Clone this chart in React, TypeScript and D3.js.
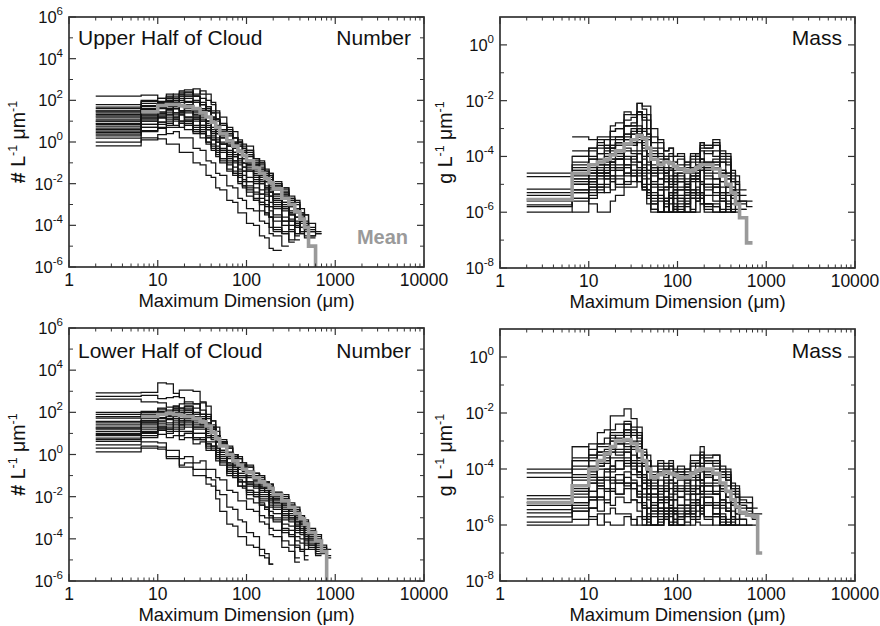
import React from 'react';
import * as d3 from 'd3';

// Shared bin edges (µm) of the size distributions
const EDGES = [2, 6.5, 10, 12.5, 15, 17.5, 20, 25, 30, 35, 40, 45, 50, 60, 70, 80, 90, 100, 120, 140, 160, 180, 200, 250, 300, 350, 400, 450, 500, 600, 700, 800, 900];
const X_TICKS = [1, 10, 100, 1000, 10000];
const X_TICK_LABELS = ['1', '10', '100', '1000', '10000'];
const NUMBER_Y_LABEL_EXPS = [6, 4, 2, 0, -2, -4, -6];
const NUMBER_Y_MINOR_EXPS = [5, 3, 1, -1, -3, -5];
const MASS_Y_LABEL_EXPS = [0, -2, -4, -6, -8];
const MASS_Y_MINOR_EXPS = [-1, -3, -5, -7];

// values are log10 of the concentration in each bin
const UPPER_NUMBER_MEAN = [null, 1.45, 1.75, 1.8, 1.8, 1.75, 1.7, 1.6, 1.4, 1.2, 0.95, 0.7, 0.4, 0.05, -0.2, -0.45, -0.65, -0.9, -1.25, -1.5, -1.75, -1.95, -2.25, -2.7, -3.0, -3.35, -3.7, -4.1, -5.0, -7];
const UPPER_NUMBER_SERIES = [
  [2.2, 2.25, 2.1, 2.3, 2.2, 2.45, 2.5, 2.3, 2.45, 2.0, 1.9, 1.4, 1.2, 0.6, 0.5, 0.0, -0.1, -0.2, -0.8, -0.9, -1.4, -1.5, -2.0, -2.2, -2.7, -2.9, -3.4, -3.5, -4.3],
  [1.67, 1.95, 1.9, 2.15, 2.1, 2.3, 2.2, 2.2, 1.8, 1.7, 1.2, 1.1, 0.5, 0.4, -0.1, -0.2, -0.6, -0.6, -1.1, -1.2, -1.7, -1.7, -2.2, -2.4, -3.0, -3.2, -3.9, -4.2],
  [1.48, 1.75, 1.85, 2.0, 1.9, 2.2, 1.95, 2.0, 1.6, 1.6, 1.1, 1.1, 0.6, 0.4, -0.1, -0.1, -0.5, -0.6, -1.1, -1.3, -1.8, -1.8, -2.3, -2.5, -3.1, -3.4, -4.1],
  [1.33, 1.6, 1.85, 1.8, 2.0, 1.75, 1.8, 1.5, 1.6, 1.2, 1.2, 0.7, 0.6, 0.1, 0.0, -0.4, -0.5, -0.9, -1.0, -1.5, -1.5, -2.0, -2.1, -2.6, -2.8, -3.3, -3.5, -4.2, -4.5],
  [1.2, 1.5, 1.75, 1.7, 1.9, 1.8, 1.9, 1.6, 1.5, 1.0, 0.9, 0.4, 0.3, -0.2, -0.3, -0.8, -0.8, -1.3, -1.4, -1.9, -1.9, -2.4, -2.5, -3.1, -3.3, -3.9, -4.3],
  [1.1, 1.35, 1.65, 1.6, 1.7, 1.5, 1.6, 1.3, 1.3, 0.9, 0.9, 0.5, 0.4, -0.1, -0.2, -0.6, -0.6, -1.1, -1.2, -1.7, -1.7, -2.2, -2.3, -2.9, -3.0, -3.6, -3.8],
  [0.9, 1.25, 1.45, 1.7, 1.6, 1.7, 1.4, 1.4, 1.0, 1.0, 0.5, 0.4, -0.1, -0.2, -0.7, -0.8, -1.2, -1.2, -1.7, -1.8, -2.3, -2.4, -2.9, -3.1, -3.7, -4.1],
  [0.76, 1.1, 1.35, 1.3, 1.6, 1.4, 1.5, 1.1, 1.1, 0.6, 0.5, 0.0, -0.1, -0.6, -0.7, -1.1, -1.2, -1.7, -1.8, -2.3, -2.4, -2.9, -3.0, -3.6, -3.8, -4.4],
  [0.67, 1.0, 1.25, 1.3, 1.6, 1.5, 1.8, 1.5, 1.6, 1.2, 1.1, 0.7, 0.5, 0.0, -0.1, -0.5, -0.5, -1.0, -1.1, -1.6, -1.6, -2.1, -2.2, -2.7, -2.8, -3.3, -3.5, -4.1, -4.3, -4.4],
  [0.52, 0.85, 1.15, 1.1, 1.3, 1.0, 1.1, 0.7, 0.7, 0.3, 0.3, -0.2, -0.3, -0.8, -0.9, -1.4, -1.4, -1.9, -2.0, -2.5, -2.6, -3.1, -3.2, -3.8, -4.0, -4.7],
  [0.38, 0.7, 0.95, 0.9, 1.0, 0.7, 0.8, 0.4, 0.4, -0.1, -0.2, -0.7, -0.8, -1.3, -1.4, -1.9, -1.9, -2.4, -2.5, -3.0, -3.1, -3.6, -3.8, -4.4, -4.7],
  [0.19, 0.5, 0.65, 0.4, 0.5, 0.2, 0.2, -0.3, -0.4, -0.9, -1.0, -1.5, -1.6, -2.1, -2.2, -2.7, -2.8, -3.2, -3.3, -3.8, -3.9, -4.4, -4.5, -5.0],
  [0.0, 0.2, 0.15, -0.1, -0.1, -0.5, -0.5, -1.0, -1.1, -1.6, -1.7, -2.2, -2.3, -2.8, -2.9, -3.4, -3.4, -3.9, -4.0, -4.5, -4.6, -5.1, -5.2],
  [-0.19, 0.1, 0.35, 0.7, 0.7, 1.0, 0.9, 1.0, 0.6, 0.6, 0.1, 0.0, -0.5, -0.7, -1.2, -1.3, -1.8, -1.9, -2.4, -2.5, -3.0, -3.1, -3.6, -3.8, -4.3, -4.4],
  [1.6, 1.85, 1.95, 2.2, 2.1, 2.4, 2.3, 2.55, 2.3, 2.3, 1.8, 1.5, 0.9, 0.7, 0.2, 0.1, -0.2, -0.4, -0.9, -1.0, -1.5, -1.6, -2.1, -2.3, -2.9, -3.0, -3.6, -3.8, -4.2],
  [1.0, 1.3, 1.35, 1.4, 1.2, 1.3, 1.0, 1.1, 0.8, 0.8, 0.4, 0.4, -0.1, -0.2, -0.6, -0.6, -1.0, -1.0, -1.5, -1.6, -2.1, -2.2, -2.7, -2.9, -3.4, -3.6, -4.1, -4.3],
  [1.4, 1.5, 1.7, 1.75, 2.0, 1.9, 2.2, 1.9, 1.9, 1.5, 1.4, 0.8, 0.6, 0.0, -0.1, -0.6, -0.6, -1.1, -1.3, -1.8, -1.9, -2.4, -2.6, -3.2, -3.4, -4.1],
  [0.6, 0.85, 0.95, 1.2, 1.2, 1.5, 1.2, 1.2, 0.8, 0.7, 0.2, 0.1, -0.4, -0.5, -0.9, -1.0, -1.4, -1.4, -1.9, -2.0, -2.5, -2.6, -3.1, -3.2, -3.8, -3.9, -4.4, -4.5],
  [0.45, 0.7, 0.85, 0.8, 1.1, 0.9, 1.0, 0.6, 0.5, 0.0, -0.1, -0.6, -0.8, -1.4, -1.5, -2.0, -2.1, -2.6, -2.8, -3.3, -3.5, -4.1, -4.3],
  [1.25, 1.55, 1.75, 1.95, 1.9, 2.1, 1.8, 1.9, 1.5, 1.5, 1.1, 1.0, 0.5, 0.4, 0.0, 0.0, -0.4, -0.5, -1.0, -1.1, -1.6, -1.7, -2.2, -2.4, -3.0, -3.2, -3.8, -3.9, -4.5, -4.4],
  [null, 1.5, 1.6, 1.9, 2.1, 2.3, 2.4, 2.2, 1.8, 1.5, 1.0, 0.7, 0.2, 0.0, -0.5, -0.6, -1.0, -1.1, -1.6, -1.7, -2.2, -2.3, -2.8, -3.0, -3.5, -3.8, -4.4],
  [null, 1.0, 1.2, 1.5, 1.4, 1.3, 1.0, 0.8, 0.4, 0.2, -0.3, -0.4, -0.9, -1.0, -1.5, -1.6, -2.1, -2.2, -2.7, -2.9, -3.4, -3.6, -4.2, -4.4],
  [1.5, 1.7, 1.8, 1.6, 1.7, 1.5, 1.5, 1.3, 1.2, 1.0, 0.7, 0.6, 0.2, 0.1, -0.3, -0.4, -0.8, -0.9, -1.3, -1.4, -1.9, -2.0, -2.5, -2.6, -3.1, -3.3, -3.8, -4.0, -4.6],
  [0.85, 1.15, 1.2, 1.0, 1.1, 0.9, 0.8, 0.5, 0.5, 0.2, 0.1, -0.3, -0.4, -0.9, -1.0, -1.5, -1.6, -2.1, -2.2, -2.7, -2.8, -3.3, -3.5, -4.0, -4.2, -4.5],
  [null, null, 1.9, 2.1, 2.3, 2.2, 2.4, 2.2, 2.1, 1.7, 1.5, 1.1, 0.8, 0.3, 0.2, -0.2, -0.3, -0.7, -0.8, -1.3, -1.4, -1.9, -2.0, -2.5, -2.7, -3.2, -3.4, -3.9, -4.1],
  [1.0, 1.2, 1.4, 1.55, 1.4, 1.4, 1.2, 1.2, 1.0, 0.6, 0.6, 0.2, 0.0, -0.4, -0.5, -0.9, -1.0, -1.4, -1.6, -2.0, -2.2, -2.6, -2.8, -3.3, -3.5, -4.0, -4.3, -4.6],
  [0.3, 0.55, 0.7, 0.9, 0.8, 0.9, 0.6, 0.5, 0.2, 0.0, -0.4, -0.5, -1.0, -1.1, -1.6, -1.7, -2.2, -2.3, -2.8, -2.9, -3.4, -3.6, -4.1, -4.3, -4.8],
  [1.8, 2.0, 2.1, 2.0, 2.1, 2.0, 2.1, 1.9, 1.8, 1.6, 1.4, 1.1, 0.8, 0.5, 0.2, 0.0, -0.3, -0.4, -0.8, -1.0, -1.3, -1.5, -1.9, -2.2, -2.6, -2.8, -3.2, -3.5, -3.9, -4.3],
];

const LOWER_NUMBER_MEAN = [null, 1.8, 1.9, 1.95, 1.9, 1.85, 1.8, 1.7, 1.55, 1.35, 1.05, 0.75, 0.4, 0.0, -0.3, -0.5, -0.7, -0.85, -1.1, -1.3, -1.45, -1.6, -1.9, -2.2, -2.5, -2.8, -3.05, -3.3, -3.7, -4.1, -4.6, -7];
const LOWER_NUMBER_SERIES = [
  [2.92, 2.95, 3.4, 3.35, 2.9, 2.7, 2.4, 2.4, 1.9, 1.8, 1.3, 1.1, 0.5, 0.3, -0.2, -0.2, -0.6, -0.6, -1.1, -1.1, -1.5, -1.5, -2.0, -2.1, -2.6, -2.7, -3.2, -3.3, -3.9, -4.1, -4.7],
  [2.76, 2.8, 2.65, 2.7, 2.75, 3.05, 3.05, 3.0, 2.5, 2.3, 1.6, 1.3, 0.6, 0.4, -0.1, -0.1, -0.5, -0.5, -1.0, -1.0, -1.4, -1.4, -1.9, -2.0, -2.5, -2.6, -3.1, -3.2, -3.7, -3.9],
  [2.63, 2.5, 2.45, 2.25, 2.3, 2.1, 2.2, 1.9, 1.9, 1.5, 1.4, 0.9, 0.7, 0.1, 0.0, -0.4, -0.5, -0.9, -1.0, -1.5, -1.5, -1.9, -2.0, -2.5, -2.6, -3.1, -3.2, -3.7, -3.9, -4.5],
  [2.0, 2.05, 2.15, 2.0, 2.1, 1.9, 2.0, 1.8, 1.8, 1.4, 1.3, 0.8, 0.6, 0.0, -0.1, -0.5, -0.5, -0.9, -0.9, -1.3, -1.3, -1.7, -1.8, -2.3, -2.4, -2.9, -2.9, -3.4, -3.6, -4.2, -4.4, -4.9],
  [1.73, 1.9, 2.05, 2.0, 2.2, 1.9, 2.1, 1.7, 1.7, 1.2, 1.1, 0.6, 0.4, -0.1, -0.2, -0.6, -0.6, -1.0, -1.1, -1.5, -1.5, -1.9, -1.9, -2.4, -2.5, -3.0, -3.1, -3.6, -3.8, -4.4],
  [1.57, 1.7, 1.85, 1.8, 2.0, 1.7, 1.9, 1.6, 1.7, 1.3, 1.2, 0.7, 0.5, -0.1, -0.2, -0.6, -0.6, -1.0, -1.1, -1.6, -1.6, -2.0, -2.1, -2.6, -2.7, -3.2, -3.3, -3.8, -4.0, -4.6],
  [1.41, 1.6, 1.85, 1.7, 1.8, 1.5, 1.6, 1.3, 1.3, 0.9, 0.8, 0.3, 0.1, -0.5, -0.6, -1.0, -1.0, -1.4, -1.5, -1.9, -1.9, -2.3, -2.4, -2.9, -3.0, -3.5, -3.6, -4.1, -4.3],
  [1.25, 1.5, 1.75, 1.7, 1.9, 1.6, 1.7, 1.4, 1.4, 1.0, 0.9, 0.4, 0.2, -0.4, -0.5, -0.9, -0.9, -1.3, -1.4, -1.8, -1.8, -2.2, -2.3, -2.8, -2.9, -3.4, -3.5, -4.0, -4.2, -4.8],
  [1.1, 1.3, 1.55, 1.5, 1.7, 1.4, 1.5, 1.2, 1.2, 0.8, 0.7, 0.2, 0.0, -0.5, -0.6, -1.0, -1.0, -1.4, -1.5, -2.0, -2.0, -2.4, -2.5, -3.0, -3.1, -3.6, -3.7, -4.2, -4.4],
  [0.94, 1.1, 1.35, 1.3, 1.4, 1.2, 1.3, 1.0, 1.0, 0.6, 0.6, 0.1, -0.1, -0.6, -0.7, -1.1, -1.1, -1.5, -1.6, -2.1, -2.1, -2.5, -2.6, -3.1, -3.2, -3.7, -3.8, -4.3, -4.5],
  [0.78, 1.0, 1.15, 1.1, 1.2, 0.9, 1.0, 0.7, 0.7, 0.3, 0.3, -0.2, -0.3, -0.8, -0.9, -1.3, -1.3, -1.7, -1.8, -2.2, -2.2, -2.7, -2.8, -3.3, -3.4, -3.9, -4.0, -4.5],
  [0.62, 0.8, 0.95, 0.8, 0.9, 0.7, 0.8, 0.5, 0.6, 0.2, 0.2, -0.3, -0.5, -1.0, -1.1, -1.5, -1.5, -1.9, -2.0, -2.4, -2.5, -2.9, -3.0, -3.5, -3.6, -4.1, -4.2, -4.8],
  [0.46, 0.6, 0.55, 0.2, 0.2, -0.2, -0.1, -0.4, -0.3, -0.7, -0.7, -1.1, -1.2, -1.7, -1.8, -2.2, -2.2, -2.6, -2.7, -3.2, -3.3, -3.8, -3.9, -4.4, -4.6, -5.1],
  [0.3, 0.4, 0.35, -0.1, -0.1, -0.5, -0.4, -0.7, -0.7, -1.1, -1.2, -1.7, -1.9, -2.5, -2.6, -3.1, -3.2, -3.7, -3.9, -4.5, -4.7, -5.2],
  [0.13, 0.3, 0.25, -0.2, -0.2, -0.6, -0.6, -1.0, -1.0, -1.4, -1.5, -2.1, -2.7, -3.3, -3.4, -3.9, -3.9, -4.3, -4.4, -4.8, -4.9, -5.2],
  [1.9, 2.0, 2.05, 1.85, 2.1, 2.0, 2.3, 2.2, 2.45, 1.9, 1.6, 0.9, 0.6, 0.0, 0.0, -0.4, -0.4, -0.8, -0.9, -1.3, -1.3, -1.7, -1.8, -2.3, -2.4, -2.9, -3.0, -3.5, -3.7, -4.3, -4.5],
  [1.3, 1.6, 1.95, 1.9, 2.3, 2.2, 2.3, 1.9, 1.9, 1.4, 1.2, 0.6, 0.4, -0.2, -0.3, -0.7, -0.7, -1.1, -1.2, -1.6, -1.6, -2.0, -2.1, -2.6, -2.7, -3.2, -3.3, -3.8, -4.0],
  [1.0, 1.2, 1.45, 1.4, 1.6, 1.3, 1.4, 1.0, 1.0, 0.5, 0.4, -0.1, -0.3, -0.9, -1.0, -1.5, -1.6, -2.1, -2.3, -2.9, -3.0, -3.5, -3.6, -4.1, -4.3, -4.9],
  [0.7, 0.9, 1.25, 1.2, 1.5, 1.4, 1.6, 1.3, 1.3, 0.9, 0.8, 0.3, 0.1, -0.4, -0.5, -0.9, -0.9, -1.3, -1.3, -1.7, -1.7, -2.1, -2.2, -2.7, -2.8, -3.3, -3.4, -3.9, -4.1, -4.7],
  [1.5, 1.6, 1.75, 1.65, 1.85, 1.8, 2.0, 1.7, 1.7, 1.3, 1.2, 0.7, 0.6, 0.1, 0.0, -0.4, -0.4, -0.8, -0.9, -1.4, -1.4, -1.8, -1.9, -2.4, -2.5, -3.0, -3.1, -3.6, -3.8, -4.4, -4.6],
  [null, 1.5, 1.7, 1.9, 2.0, 2.2, 2.1, 2.0, 1.6, 1.5, 1.0, 0.8, 0.2, 0.0, -0.4, -0.5, -0.8, -0.9, -1.2, -1.3, -1.6, -1.8, -2.1, -2.3, -2.7, -2.9, -3.3, -3.5, -3.9, -4.2, -4.6, -4.8],
  [null, 1.0, 1.3, 1.2, 1.3, 1.1, 1.1, 0.8, 0.7, 0.4, 0.2, -0.1, -0.4, -0.8, -1.0, -1.3, -1.5, -1.8, -2.0, -2.4, -2.6, -3.0, -3.2, -3.7, -3.9, -4.4, -4.6],
  [1.8, 1.9, 2.0, 2.1, 1.9, 2.0, 1.8, 1.8, 1.5, 1.4, 1.0, 0.9, 0.4, 0.3, -0.1, -0.2, -0.5, -0.6, -0.9, -1.0, -1.3, -1.4, -1.8, -1.9, -2.3, -2.5, -2.9, -3.1, -3.5, -3.8, -4.3, -4.5],
  [0.9, 1.05, 1.2, 1.0, 1.1, 0.9, 1.0, 0.8, 0.8, 0.5, 0.4, 0.0, -0.2, -0.7, -0.8, -1.2, -1.3, -1.7, -1.9, -2.3, -2.5, -2.9, -3.1, -3.6, -3.8, -4.3, -4.5, -5.0],
  [1.2, 1.4, 1.6, 1.7, 1.7, 1.6, 1.7, 1.5, 1.4, 1.1, 1.0, 0.6, 0.4, 0.0, -0.2, -0.5, -0.7, -1.0, -1.2, -1.6, -1.8, -2.1, -2.3, -2.8, -3.0, -3.4, -3.6, -4.0, -4.3, -4.7],
  [null, 2.0, 2.2, 2.0, 2.2, 2.4, 2.5, 2.4, 2.1, 1.7, 1.3, 0.9, 0.4, 0.1, -0.3, -0.4, -0.7, -0.8, -1.1, -1.2, -1.5, -1.6, -2.0, -2.1, -2.5, -2.7, -3.1, -3.3, -3.7, -4.0, -4.4],
];

const UPPER_MASS_MEAN = [-5.55, -4.6, -4.3, -4.2, -4.1, -3.95, -3.8, -3.55, -3.4, -3.25, -3.35, -3.7, -4.1, -4.3, -4.2, -4.25, -4.35, -4.45, -4.55, -4.5, -4.4, -4.3, -4.3, -4.45, -4.7, -5.0, -5.3, -5.7, -6.2, -7.1];
const UPPER_MASS_SERIES = [
  [-4.6, -4.0, -3.7, -3.3, -3.3, -2.9, -2.8, -2.4, -2.5, -2.1, -2.3, -2.5, -3.3, -3.5, -3.8, -3.7, -4.0, -3.9, -4.2, -3.9, -3.9, -3.5, -3.6, -3.5, -3.9, -4.0, -4.6, -4.9, -5.4],
  [-4.72, -4.3, -4.1, -3.7, -3.7, -3.3, -3.3, -2.9, -2.9, -2.5, -3.0, -3.3, -4.0, -4.1, -4.1, -4.0, -4.4, -4.3, -4.6, -4.2, -4.2, -3.8, -3.9, -3.8, -4.2, -4.3, -4.9, -5.2],
  [-5.17, -4.8, -4.6, -4.2, -4.1, -3.7, -3.6, -3.2, -3.2, -2.9, -3.4, -3.7, -4.4, -4.4, -4.5, -4.5, -4.9, -4.9, -5.2, -4.8, -4.8, -4.4, -4.5, -4.4, -4.9, -5.1, -5.7],
  [-5.3, -4.9, -4.8, -4.4, -4.5, -4.1, -4.1, -3.7, -3.8, -3.4, -3.8, -4.0, -4.7, -4.8, -4.9, -4.9, -5.3, -5.2, -5.2, -4.8, -4.8, -4.5, -4.8, -4.8, -5.3, -5.4],
  [-5.4, -5.0, -4.9, -4.5, -4.6, -4.3, -4.4, -4.1, -4.2, -3.9, -4.4, -4.6, -5.3, -5.4, -6.0, -5.3, -5.7, -6.0, -5.4, -5.2, -5.3, -5.3, -5.7, -5.8, -6.0],
  [-5.53, -5.2, -5.1, -4.7, -4.8, -4.4, -4.5, -4.3, -4.6, -4.5, -5.0, -5.2, -5.7, -6.0, -5.6, -5.4, -6.0, -5.7, -6.0, -5.5, -5.5, -5.4, -5.8, -6.0],
  [-5.6, -5.3, -5.2, -4.8, -4.7, -4.2, -4.1, -3.6, -3.5, -3.0, -3.1, -3.2, -3.9, -4.0, -4.4, -4.4, -4.7, -4.7, -5.0, -4.6, -4.6, -4.2, -4.3, -4.2, -4.6, -4.7, -5.3, -5.4, -5.7],
  [-5.74, -5.5, -5.4, -5.1, -5.1, -4.7, -4.7, -4.4, -4.5, -4.2, -4.6, -4.8, -5.4, -5.5, -6.0, -6.0, -5.4, -5.9, -6.0, -6.0, -5.6, -5.4, -5.7, -5.8, -6.0],
  [-6.0, -5.5, -5.7, -6.0, -6.0, -5.6, -5.4, -4.9, -4.9, -4.6, -5.1, -5.3, -5.9, -6.0, -6.0, -5.5, -6.0, -6.0, -5.8, -6.0, -6.0, -5.7, -6.0],
  [null, -3.3, -3.4, -3.4, -3.7, -3.4, -3.4, -2.9, -2.9, -2.4, -2.5, -2.7, -3.5, -3.7, -4.0, -3.9, -4.2, -4.1, -4.4, -4.1, -4.1, -3.7, -3.7, -3.6, -4.0, -4.1, -4.7, -4.9],
  [null, -4.2, -4.0, -3.6, -3.6, -3.1, -3.0, -2.5, -2.5, -2.1, -2.2, -2.2, -3.0, -3.4, -3.8, -3.7, -4.0, -4.0, -4.3, -4.0, -4.0, -3.6, -3.7, -3.6, -4.1, -4.2, -4.8, -5.0, -5.6, -5.6],
  [null, -4.5, -4.3, -3.9, -3.9, -3.6, -3.6, -3.3, -3.4, -3.3, -3.7, -3.9, -4.5, -4.5, -4.6, -4.4, -4.7, -4.6, -4.9, -4.5, -4.5, -4.1, -4.2, -4.1, -4.5, -4.6, -5.1, -5.3],
  [null, -5.0, -4.7, -4.2, -4.2, -3.8, -3.8, -3.4, -3.6, -3.5, -4.0, -4.3, -5.0, -5.1, -5.1, -5.1, -5.5, -5.5, -6.0, -5.4, -5.3, -4.9, -5.1, -5.1, -5.6, -5.7, -6.0],
  [null, -6.0, -5.3, -4.7, -4.6, -4.1, -4.1, -3.6, -3.6, -3.2, -3.5, -3.7, -4.4, -4.5, -4.8, -4.7, -5.1, -5.1, -5.4, -4.9, -4.9, -4.5, -4.6, -4.6, -5.1, -5.3, -5.9],
  [null, null, -4.8, -4.5, -4.7, -4.7, -5.1, -5.1, -5.1, -4.7, -5.1, -5.4, -5.9, -6.0, -5.6, -5.5, -5.9, -6.0, -5.5, -5.3, -5.4, -5.3, -5.7, -5.7, -6.0],
  [null, -4.4, -4.4, -4.1, -4.1, -3.6, -3.5, -2.9, -2.8, -2.4, -2.7, -3.0, -3.8, -3.9, -4.2, -4.2, -4.5, -4.4, -4.5, -4.0, -3.9, -3.5, -3.6, -3.4, -3.8, -3.9, -4.5, -4.7, -5.2],
  [null, -5.3, -5.1, -4.6, -4.6, -4.2, -4.3, -4.0, -4.1, -3.9, -4.3, -4.5, -5.1, -5.2, -5.5, -5.5, -5.9, -6.0, -5.7, -5.5, -5.6, -5.5, -5.9, -6.0],
  [null, -4.7, -4.6, -4.3, -4.3, -3.9, -3.9, -3.5, -3.5, -3.1, -3.3, -3.4, -4.1, -4.3, -4.6, -4.5, -4.9, -4.8, -5.1, -4.7, -4.7, -4.3, -4.4, -4.3, -4.7, -4.8, -5.4, -5.6, -5.9],
  [null, -4.0, -3.8, -3.9, -3.6, -3.7, -3.3, -3.4, -3.0, -3.2, -3.4, -4.0, -4.3, -4.8, -4.6, -5.0, -4.8, -5.2, -5.0, -5.3, -4.7, -4.9, -4.5, -4.8, -4.9, -5.3, -5.5, -6.0],
  [null, -5.6, -5.0, -5.2, -4.8, -4.9, -4.5, -4.6, -4.3, -4.4, -4.7, -5.2, -5.6, -6.0, -5.5, -6.0, -5.3, -5.6, -5.3, -5.5, -5.1, -5.3, -5.0, -5.3, -5.5, -5.9, -6.0],
  [null, -4.5, -4.1, -4.2, -3.8, -3.9, -3.5, -3.6, -3.2, -3.3, -3.6, -4.2, -4.6, -5.0, -4.7, -5.1, -4.6, -4.9, -4.5, -4.8, -4.3, -4.5, -4.2, -4.4, -4.6, -5.0, -5.2, -5.7, -5.9],
  [null, null, -4.5, -4.6, -4.3, -4.5, -4.1, -4.3, -4.0, -4.2, -4.5, -5.0, -5.5, -6.0, -5.8, -6.0, -5.2, -5.8, -5.4, -5.9, -5.2, -5.5, -5.0, -5.4, -5.6, -6.0],
  [null, -5.0, -4.9, -5.3, -5.0, -5.2, -4.8, -5.0, -4.7, -4.9, -5.2, -5.7, -6.0, -6.0, -5.7, -6.0, -5.8, -6.0, -5.6, -6.0, -5.5, -5.7, -5.4, -5.6, -5.9, -6.0],
  [null, -3.8, -3.7, -3.5, -3.4, -3.1, -3.0, -2.7, -2.6, -2.4, -2.6, -3.2, -3.7, -4.2, -4.1, -4.4, -4.2, -4.5, -4.2, -4.4, -4.0, -4.1, -3.8, -4.0, -4.2, -4.6, -4.9, -5.3, -5.6, -5.8],
  [null, null, null, -5.0, -4.6, -4.8, -4.4, -4.7, -4.5, -4.9, -5.2, -5.5, -5.0, -5.6, -5.1, -5.7, -5.2, -5.4, -5.0, -5.3, -4.8, -5.0, -4.7, -5.0, -5.3, -5.6, -6.0],
  [null, -4.8, -4.6, -4.3, -4.0, -3.7, -3.5, -3.2, -3.1, -3.0, -3.4, -3.9, -4.6, -4.3, -4.9, -4.5, -5.0, -4.6, -4.8, -4.4, -4.5, -4.1, -4.3, -4.2, -4.5, -4.8, -5.2, -5.6],
  [null, null, -5.5, -5.1, -5.3, -4.9, -5.0, -4.6, -4.7, -4.5, -4.8, -5.3, -5.7, -5.2, -5.8, -5.3, -6.0, -5.5, -5.7, -5.2, -5.4, -5.0, -5.2, -5.1, -5.4, -5.8, -6.0],
  [-5.8, -5.2, -4.9, -4.6, -4.4, -4.2, -4.0, -3.8, -3.9, -3.8, -4.1, -4.5, -4.9, -4.6, -5.2, -4.8, -5.3, -4.9, -5.1, -4.7, -4.6, -4.3, -4.4, -4.4, -4.7, -5.1, -5.5, -5.9],
];

const LOWER_MASS_MEAN = [-5.2, -4.6, -4.0, -3.7, -3.45, -3.2, -3.0, -2.95, -3.1, -3.35, -3.7, -4.0, -4.3, -4.2, -4.1, -4.15, -4.2, -4.3, -4.3, -4.15, -4.05, -4.0, -4.0, -4.15, -4.5, -4.8, -5.1, -5.35, -5.55, -5.65, -5.7, -7.0];
const LOWER_MASS_SERIES = [
  [-4.0, -3.2, -3.1, -2.7, -2.6, -2.1, -2.1, -1.85, -2.2, -2.5, -3.3, -3.5, -3.9, -3.7, -3.8, -3.7, -4.0, -3.9, -4.0, -3.5, -3.5, -3.2, -3.5, -3.5, -4.0, -4.1, -4.6, -4.7, -5.1, -5.2],
  [-4.14, -3.7, -3.5, -3.1, -3.1, -2.7, -2.7, -2.4, -2.8, -2.9, -3.5, -3.7, -4.2, -3.9, -4.0, -3.9, -4.2, -4.1, -4.2, -3.8, -3.8, -3.5, -3.7, -3.7, -4.2, -4.3, -4.8, -4.9, -5.3, -5.4],
  [-4.3, -4.0, -3.7, -3.2, -3.2, -2.8, -2.9, -2.6, -3.0, -3.1, -3.7, -3.9, -4.5, -4.2, -4.3, -4.2, -4.5, -4.4, -4.5, -4.1, -4.1, -3.8, -4.0, -4.0, -4.5, -4.6, -5.1, -5.2, -5.6, -5.6, -5.8],
  [-4.95, -4.3, -3.9, -3.4, -3.4, -3.0, -3.0, -2.8, -3.2, -3.3, -3.9, -4.1, -4.7, -4.4, -4.5, -4.4, -4.7, -4.6, -4.7, -4.3, -4.3, -4.0, -4.2, -4.2, -4.7, -4.8, -5.3, -5.4, -5.8],
  [-5.07, -4.6, -4.3, -3.8, -3.7, -3.3, -3.3, -3.1, -3.5, -3.6, -4.2, -4.4, -5.0, -4.7, -4.8, -4.7, -5.1, -5.0, -5.1, -4.7, -4.7, -4.4, -4.6, -4.6, -5.1, -5.2, -5.7, -5.8],
  [-5.2, -4.8, -4.5, -4.0, -4.0, -3.6, -3.6, -3.4, -3.8, -3.9, -4.5, -4.7, -5.3, -5.0, -5.1, -5.1, -5.5, -5.4, -5.4, -4.9, -4.9, -4.6, -4.9, -4.9, -5.4, -5.5, -6.0],
  [-5.3, -5.0, -4.8, -4.3, -4.3, -3.9, -4.0, -3.8, -4.2, -4.3, -4.9, -5.1, -5.7, -5.4, -5.5, -5.5, -5.9, -6.0, -5.6, -5.3, -5.3, -5.0, -5.3, -5.3, -5.8, -6.0],
  [-5.45, -5.2, -5.1, -4.7, -4.7, -4.4, -4.5, -4.3, -4.7, -4.8, -5.4, -5.6, -6.0, -5.7, -5.8, -6.0, -6.0, -5.7, -5.7, -5.4, -5.5, -5.4, -5.8, -6.0],
  [-5.57, -5.4, -5.7, -6.0, -5.6, -5.4, -5.6, -5.6, -6.0, -5.7, -6.0, -6.0, -5.6, -5.4, -5.7, -5.7, -6.0, -5.6, -5.6, -5.5, -5.9, -6.0, -6.0, -5.7, -6.0],
  [-5.71, -5.5, -5.4, -5.0, -5.1, -4.8, -4.9, -4.7, -5.1, -5.2, -5.7, -5.8, -6.0, -6.0, -5.7, -5.5, -5.6, -5.5, -5.9, -6.0, -5.8, -5.6, -5.7, -5.6, -6.0, -6.0],
  [-6.0, -6.0, -5.8, -5.6, -5.9, -6.0, -6.0, -5.7, -5.8, -6.0, -6.0, -5.4, -5.4, -5.1, -5.4, -5.4, -5.8, -6.0, -6.0, -5.7, -5.7, -5.4, -5.7, -5.7, -6.0, -6.0, -6.0, -6.0, -6.0, -6.0, -6.0],
  [null, -3.7, -3.7, -3.4, -3.4, -3.0, -3.0, -2.7, -3.1, -3.2, -3.8, -4.0, -4.4, -4.1, -4.1, -4.0, -4.3, -4.2, -4.3, -3.9, -3.9, -3.6, -3.8, -3.8, -4.3, -4.4, -4.9, -5.0, -5.4, -5.4, -5.8],
  [null, -4.4, -4.0, -3.5, -3.5, -3.2, -3.4, -3.3, -3.7, -3.8, -4.3, -4.4, -4.9, -4.8, -4.8, -4.5, -4.8, -4.7, -4.8, -4.4, -4.4, -4.1, -4.3, -4.2, -4.7, -4.8, -5.3, -5.4],
  [null, -4.9, -4.5, -3.9, -3.8, -3.4, -3.5, -3.4, -3.9, -4.1, -4.7, -4.9, -5.5, -5.2, -5.2, -5.1, -5.4, -5.3, -5.3, -4.9, -4.9, -4.6, -4.8, -4.8, -5.3, -5.4, -5.9],
  [null, -3.2, -3.5, -3.4, -3.4, -2.9, -2.8, -2.4, -2.7, -2.8, -3.5, -3.7, -4.1, -3.8, -3.9, -3.8, -4.1, -4.0, -4.1, -3.7, -3.7, -3.4, -3.6, -3.5, -3.9, -4.0, -4.5, -4.6, -5.0, -5.0, -5.4],
  [null, -5.5, -5.1, -4.5, -4.4, -4.0, -4.0, -3.7, -4.0, -4.1, -4.7, -4.9, -5.5, -5.5, -5.5, -5.4, -5.8, -6.0, -5.5, -5.2, -5.2, -4.9, -5.2, -5.2, -5.7, -5.8, -6.0],
  [null, -4.2, -4.1, -3.7, -3.7, -3.2, -3.1, -2.6, -2.6, -2.7, -3.4, -3.7, -4.3, -4.0, -4.0, -3.9, -4.2, -4.1, -4.2, -3.8, -3.8, -3.5, -3.7, -3.7, -4.1, -4.2, -4.7, -4.8, -5.2, -5.2, -5.6, -5.6],
  [null, -4.6, -4.3, -4.4, -4.0, -4.1, -3.7, -3.9, -3.8, -4.2, -4.4, -5.0, -5.2, -5.6, -5.0, -5.4, -4.9, -5.3, -4.8, -5.1, -4.6, -4.8, -4.5, -4.9, -5.1, -5.5, -5.7, -6.0],
  [null, -5.2, -5.0, -5.1, -4.7, -4.8, -4.4, -4.6, -4.5, -4.9, -5.2, -5.7, -6.0, -6.0, -5.6, -6.0, -5.5, -5.8, -5.3, -5.7, -5.1, -5.4, -5.0, -5.4, -5.7, -6.0],
  [null, -3.9, -3.6, -3.7, -3.3, -3.4, -3.0, -3.2, -3.2, -3.6, -3.9, -4.5, -4.7, -5.1, -4.6, -4.9, -4.5, -4.8, -4.4, -4.7, -4.2, -4.4, -4.1, -4.4, -4.6, -5.0, -5.2, -5.6, -5.8, -6.0],
  [null, -4.8, -4.4, -4.6, -4.3, -4.5, -4.2, -4.5, -4.5, -5.0, -5.3, -5.9, -6.0, -6.0, -5.8, -6.0, -5.6, -6.0, -5.5, -5.8, -5.3, -5.6, -5.2, -5.6, -5.9, -6.0],
  [null, -3.6, -3.3, -3.1, -2.9, -2.6, -2.4, -2.3, -2.5, -3.0, -3.5, -4.1, -4.3, -4.6, -4.2, -4.4, -4.1, -4.3, -4.0, -4.2, -3.8, -3.9, -3.7, -3.9, -4.1, -4.4, -4.7, -5.0, -5.3, -5.5, -5.7],
  [null, -5.8, -5.4, -5.5, -5.2, -5.3, -5.0, -5.2, -5.1, -5.5, -5.8, -6.0, -6.0, -5.8, -5.6, -5.9, -5.4, -5.7, -5.3, -5.6, -5.2, -5.5, -5.3, -5.6, -6.0],
  [null, null, -5.0, -4.6, -4.8, -4.3, -4.5, -4.1, -4.4, -4.6, -5.0, -5.4, -4.9, -5.5, -5.0, -5.6, -5.1, -5.3, -4.9, -5.2, -4.7, -4.9, -4.6, -4.9, -5.2, -5.5, -5.8, -6.0],
  [null, -4.7, -4.2, -3.9, -3.6, -3.3, -3.1, -3.0, -3.3, -3.7, -4.2, -4.6, -4.3, -4.9, -4.4, -5.0, -4.6, -4.8, -4.4, -4.6, -4.2, -4.4, -4.2, -4.4, -4.7, -5.0, -5.3, -5.6, -5.8],
  [null, null, -5.4, -5.0, -5.2, -4.7, -4.9, -4.5, -4.7, -5.0, -5.4, -5.8, -5.3, -5.9, -5.4, -6.0, -5.5, -5.7, -5.3, -5.6, -5.1, -5.3, -5.0, -5.3, -5.6, -5.9, -6.0],
  [-5.9, -5.3, -4.8, -4.4, -4.1, -3.9, -3.7, -3.6, -3.8, -4.1, -4.5, -4.9, -4.6, -5.2, -4.7, -5.3, -4.8, -5.0, -4.6, -4.8, -4.4, -4.5, -4.3, -4.5, -4.8, -5.2, -5.5, -5.8, -6.0],
];

const FONT = "'Liberation Sans', Arial, Helvetica, sans-serif";

type Frame = { x0: number; y0: number; x1: number; y1: number };
type PanelSpec = {
  id: string;
  frame: Frame;
  yDomain: [number, number];
  yLabelExps: number[];
  yMinorExps: number[];
  yTitle: 'number' | 'mass';
  yTitleX: number;
  leftLabel?: string;
  rightLabel: string;
  labelY: number;
  series: (number | null)[][];
  mean: (number | null)[];
  showMeanLabel?: boolean;
};

type Pt = { x: number; v: number | null };

function toPoints(values: (number | null)[]): Pt[] {
  const pts: Pt[] = values.map((v, i) => ({ x: EDGES[i], v }));
  pts.push({ x: EDGES[values.length], v: values[values.length - 1] });
  return pts;
}

function Panel({ spec }: { spec: PanelSpec }) {
  const { x0, y0, x1, y1 } = spec.frame;
  const x = d3.scaleLog().domain([1, 10000]).range([x0, x1]);
  const y = d3.scaleLog().domain(spec.yDomain).range([y1, y0]);
  const line = d3
    .line<Pt>()
    .defined((d) => d.v != null)
    .x((d) => x(d.x))
    .y((d) => y(Math.pow(10, d.v as number)))
    .curve(d3.curveStepAfter);

  const minorX: number[] = [];
  for (let d = 0; d < 4; d++) for (let k = 2; k <= 9; k++) minorX.push(k * Math.pow(10, d));

  const stroke = '#333';
  const clipId = `clip-${spec.id}`;

  return (
    <g>
      <defs>
        <clipPath id={clipId}>
          <rect x={x0} y={y0} width={x1 - x0} height={y1 - y0} />
        </clipPath>
      </defs>
      <g clipPath={`url(#${clipId})`} fill="none">
        {spec.series.map((s, i) => (
          <path key={i} d={line(toPoints(s)) || ''} stroke="#141414" strokeWidth={1.25} />
        ))}
        <path d={line(toPoints(spec.mean)) || ''} stroke="#9a9a9a" strokeWidth={3.6} />
      </g>
      <rect x={x0} y={y0} width={x1 - x0} height={y1 - y0} fill="none" stroke={stroke} strokeWidth={1.7} />
      {X_TICKS.map((t) => (
        <g key={'xt' + t}>
          <line x1={x(t)} x2={x(t)} y1={y1} y2={y1 - 7} stroke={stroke} strokeWidth={1.2} />
          <line x1={x(t)} x2={x(t)} y1={y0} y2={y0 + 7} stroke={stroke} strokeWidth={1.2} />
        </g>
      ))}
      {minorX.map((t) => (
        <g key={'xm' + t}>
          <line x1={x(t)} x2={x(t)} y1={y1} y2={y1 - 3.5} stroke={stroke} strokeWidth={1} />
          <line x1={x(t)} x2={x(t)} y1={y0} y2={y0 + 3.5} stroke={stroke} strokeWidth={1} />
        </g>
      ))}
      {X_TICKS.map((t, i) => (
        <text key={'xl' + t} x={x(t)} y={y1 + 19} textAnchor="middle" fontSize={17.5} fontFamily={FONT} fill="#111">
          {X_TICK_LABELS[i]}
        </text>
      ))}
      <text x={(x0 + x1) / 2} y={y1 + 40} textAnchor="middle" fontSize={18.5} fontFamily={FONT} fill="#111">
        Maximum Dimension (μm)
      </text>
      {spec.yLabelExps.map((e) => {
        const yy = y(Math.pow(10, e));
        return (
          <g key={'yt' + e}>
            <line x1={x0} x2={x0 + 7} y1={yy} y2={yy} stroke={stroke} strokeWidth={1.2} />
            <line x1={x1} x2={x1 - 7} y1={yy} y2={yy} stroke={stroke} strokeWidth={1.2} />
            <text x={x0 - 6} y={yy + 6} textAnchor="end" fontSize={16.5} fontFamily={FONT} fill="#111">
              10
              <tspan dy={-8} fontSize={11.5}>
                {e < 0 ? '-' + Math.abs(e) : String(e)}
              </tspan>
            </text>
          </g>
        );
      })}
      {spec.yMinorExps.map((e) => {
        const yy = y(Math.pow(10, e));
        return (
          <g key={'ym' + e}>
            <line x1={x0} x2={x0 + 4} y1={yy} y2={yy} stroke={stroke} strokeWidth={1} />
            <line x1={x1} x2={x1 - 4} y1={yy} y2={yy} stroke={stroke} strokeWidth={1} />
          </g>
        );
      })}
      <text
        transform={`translate(${spec.yTitleX},${(y0 + y1) / 2}) rotate(-90)`}
        textAnchor="middle"
        fontSize={19.5}
        fontFamily={FONT}
        fill="#111"
      >
        {spec.yTitle === 'number' ? (
          <>
            <tspan fontWeight="bold">#</tspan>
            <tspan> L</tspan>
            <tspan dy={-8} fontSize={12.5}>-1</tspan>
            <tspan dy={8}> μm</tspan>
            <tspan dy={-8} fontSize={12.5}>-1</tspan>
          </>
        ) : (
          <>
            <tspan>g L</tspan>
            <tspan dy={-8} fontSize={12.5}>-1</tspan>
            <tspan dy={8}> μm</tspan>
            <tspan dy={-8} fontSize={12.5}>-1</tspan>
          </>
        )}
      </text>
      {spec.leftLabel && (
        <text x={x0 + 9} y={spec.labelY} fontSize={21} fontFamily={FONT} fill="#111">
          {spec.leftLabel}
        </text>
      )}
      <text x={x1 - 13} y={spec.labelY} textAnchor="end" fontSize={21} fontFamily={FONT} fill="#111">
        {spec.rightLabel}
      </text>
      {spec.showMeanLabel && (
        <text x={x1 - 16} y={y1 - 23} textAnchor="end" fontSize={20} fontWeight="bold" fontFamily={FONT} fill="#9a9a9a">
          Mean
        </text>
      )}
    </g>
  );
}

const PANELS: PanelSpec[] = [
  {
    id: 'tl',
    frame: { x0: 69, y0: 17, x1: 424, y1: 267 },
    yDomain: [1e-6, 1e6],
    yLabelExps: NUMBER_Y_LABEL_EXPS,
    yMinorExps: NUMBER_Y_MINOR_EXPS,
    yTitle: 'number',
    yTitleX: 25,
    leftLabel: 'Upper Half of Cloud',
    rightLabel: 'Number',
    labelY: 45,
    series: UPPER_NUMBER_SERIES,
    mean: UPPER_NUMBER_MEAN,
    showMeanLabel: true,
  },
  {
    id: 'tr',
    frame: { x0: 500, y0: 17, x1: 855, y1: 268 },
    yDomain: [1e-8, 1e1],
    yLabelExps: MASS_Y_LABEL_EXPS,
    yMinorExps: MASS_Y_MINOR_EXPS,
    yTitle: 'mass',
    yTitleX: 452,
    rightLabel: 'Mass',
    labelY: 45,
    series: UPPER_MASS_SERIES,
    mean: UPPER_MASS_MEAN,
  },
  {
    id: 'bl',
    frame: { x0: 69, y0: 328, x1: 424, y1: 581 },
    yDomain: [1e-6, 1e6],
    yLabelExps: NUMBER_Y_LABEL_EXPS,
    yMinorExps: NUMBER_Y_MINOR_EXPS,
    yTitle: 'number',
    yTitleX: 25,
    leftLabel: 'Lower Half of Cloud',
    rightLabel: 'Number',
    labelY: 358,
    series: LOWER_NUMBER_SERIES,
    mean: LOWER_NUMBER_MEAN,
  },
  {
    id: 'br',
    frame: { x0: 500, y0: 329, x1: 855, y1: 581 },
    yDomain: [1e-8, 1e1],
    yLabelExps: MASS_Y_LABEL_EXPS,
    yMinorExps: MASS_Y_MINOR_EXPS,
    yTitle: 'mass',
    yTitleX: 452,
    rightLabel: 'Mass',
    labelY: 358,
    series: LOWER_MASS_SERIES,
    mean: LOWER_MASS_MEAN,
  },
];

export default function App() {
  return (
    <svg
      width={880}
      height={626}
      viewBox="0 0 880 626"
      style={{ position: 'absolute', left: 0, top: 0, background: '#fff' }}
    >
      <rect x={0} y={0} width={880} height={626} fill="#fff" />
      {PANELS.map((p) => (
        <Panel key={p.id} spec={p} />
      ))}
    </svg>
  );
}
